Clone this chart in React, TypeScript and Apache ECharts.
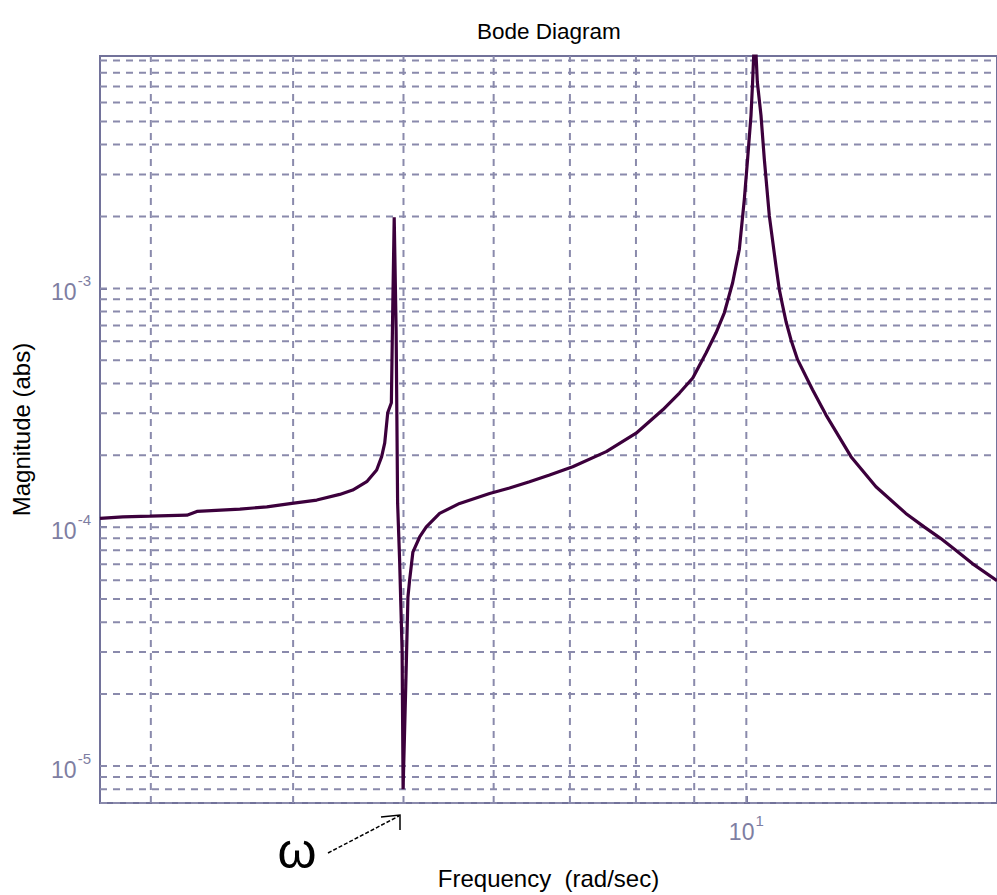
import React, { useEffect, useRef } from "react";
import * as echarts from "echarts";

// Frequency (rad/sec) samples
const frequency = [
  2.707, 2.835, 2.994, 3.227, 3.293, 3.592, 3.793, 3.99, 4.196, 4.395, 4.512, 4.642, 4.736, 4.784,
  4.814, 4.843, 4.879, 4.892, 4.907, 4.926, 4.941, 4.961, 4.986, 4.996, 5.021, 5.045, 5.062, 5.096,
  5.166, 5.236, 5.379, 5.601, 5.951, 6.196, 6.451, 6.718, 7.04, 7.534, 8.003, 8.446, 8.735, 8.974,
  9.218, 9.406, 9.565, 9.727, 9.86, 9.96, 10.026, 10.095, 10.128, 10.173, 10.225, 10.301, 10.37,
  10.476, 10.618, 10.689, 10.761, 10.835, 10.944, 11.092, 11.433, 11.746, 12.357, 12.997, 13.806,
  14.326, 14.818, 15.274, 15.794, 16.6,
];

// Magnitude (abs) samples
const magnitude = [
  1.088e-4, 1.105e-4, 1.112e-4, 1.123e-4, 1.164e-4, 1.19e-4, 1.217e-4, 1.258e-4, 1.299e-4, 1.372e-4,
  1.43e-4, 1.55e-4, 1.736e-4, 1.974e-4, 2.253e-4, 3.013e-4, 3.319e-4, 7.93e-4, 1.987e-3, 6.725e-4,
  1.261e-4, 7.27e-5, 3.04e-5, 8.0e-6, 2.007e-5, 5.08e-5, 5.99e-5, 7.87e-5, 9.1e-5, 1.003e-4,
  1.142e-4, 1.258e-4, 1.385e-4, 1.459e-4, 1.55e-4, 1.653e-4, 1.792e-4, 2.072e-4, 2.475e-4, 3.101e-4,
  3.646e-4, 4.215e-4, 5.367e-4, 6.515e-4, 7.905e-4, 1.056e-3, 1.459e-3, 2.366e-3, 3.483e-3, 5.3e-3,
  7.315e-3, 1.225e-2, 7.315e-3, 5.3e-3, 3.483e-3, 2.012e-3, 1.241e-3, 9.9e-4, 8.48e-4, 7.27e-4,
  6.1e-4, 5.03e-4, 3.764e-4, 2.955e-4, 1.974e-4, 1.477e-4, 1.142e-4, 1.003e-4, 8.96e-5, 8.01e-5,
  7.04e-5, 5.97e-5,
];

// Grid lines (log decades with minor subdivisions)
const freqGridLines = [3, 4, 5, 6, 7, 8, 9, 10];
const magGridLines = [
  7e-6, 8e-6, 9e-6,
  1e-5, 2e-5, 3e-5, 4e-5, 5e-5, 6e-5, 7e-5, 8e-5, 9e-5,
  1e-4, 2e-4, 3e-4, 4e-4, 5e-4, 6e-4, 7e-4, 8e-4, 9e-4,
  1e-3, 2e-3, 3e-3, 4e-3, 5e-3, 6e-3, 7e-3, 8e-3, 9e-3,
];
const freqRange = [2.707, 16.6];
const magRange = [7e-6, 9.4e-3];

const titleText = "Bode Diagram";
const xName = "Frequency  (rad/sec)";
const yName = "Magnitude (abs)";
const annotationText = "ω";

const FONT = "'Liberation Sans', Arial, sans-serif";
const LINE_COLOR = "#3c003c";
const GRID_COLOR = "#8a8aac";
const AXIS_COLOR = "#72729a";
const LABEL_COLOR = "#7e7ea2";

export default function App() {
  const ref = useRef<HTMLDivElement>(null);

  useEffect(() => {
    if (!ref.current) return;
    const chart = echarts.init(ref.current, null, { renderer: "svg" });

    const powerLabel = (v: number) => {
      const e = Math.log10(v);
      const r = Math.round(e);
      if (Math.abs(e - r) > 1e-6) return "";
      return `{b|10}{s|${r}}`;
    };
    const rich = {
      b: { fontSize: 23, color: LABEL_COLOR, fontFamily: FONT, lineHeight: 30, verticalAlign: "bottom" },
      s: { fontSize: 15, color: LABEL_COLOR, fontFamily: FONT, lineHeight: 30, verticalAlign: "top", padding: [0, 0, 0, 1] },
    };

    const gridStyle = { color: GRID_COLOR, type: [7, 6], width: 2 };
    const gridSeries = [
      ...freqGridLines.map((v) => ({
        type: "line",
        silent: true,
        symbol: "none",
        z: 1,
        lineStyle: gridStyle,
        data: [
          [v, magRange[0]],
          [v, magRange[1]],
        ],
      })),
      ...magGridLines.map((v) => ({
        type: "line",
        silent: true,
        symbol: "none",
        z: 1,
        lineStyle: gridStyle,
        data: [
          [freqRange[0], v],
          [freqRange[1], v],
        ],
      })),
    ];

    const data = frequency.map((f, i) => [f, magnitude[i]]);

    chart.setOption({
      animation: false,
      title: {
        text: titleText,
        left: 472,
        top: 15,
        textStyle: { fontSize: 22.5, fontWeight: "normal", color: "#000", fontFamily: FONT },
      },
      grid: {
        left: 100,
        top: 56,
        width: 898,
        height: 749,
        show: true,
        borderColor: AXIS_COLOR,
        borderWidth: 2,
        backgroundColor: "transparent",
      },
      xAxis: {
        type: "log",
        logBase: 10,
        min: freqRange[0],
        max: freqRange[1],
        name: xName,
        nameLocation: "middle",
        nameGap: 63,
        nameTextStyle: { fontSize: 24, color: "#000", fontFamily: FONT },
        axisLine: { show: false },
        axisTick: { show: true, inside: true, length: 7, lineStyle: { color: AXIS_COLOR, width: 2 } },
        splitLine: { show: false },
        axisLabel: { formatter: powerLabel, rich, margin: 10, showMinLabel: false, showMaxLabel: false },
      },
      yAxis: {
        type: "log",
        logBase: 10,
        min: magRange[0],
        max: magRange[1],
        name: yName,
        nameLocation: "middle",
        nameGap: 67,
        nameTextStyle: { fontSize: 24, color: "#000", fontFamily: FONT },
        axisLine: { show: false },
        axisTick: { show: true, inside: true, length: 7, lineStyle: { color: AXIS_COLOR, width: 2 } },
        splitLine: { show: false },
        axisLabel: { formatter: powerLabel, rich, margin: 9, showMinLabel: false, showMaxLabel: false },
      },
      series: [
        ...gridSeries,
        {
          type: "line",
          name: "Magnitude",
          data,
          symbol: "none",
          showSymbol: false,
          z: 3,
          lineStyle: { color: LINE_COLOR, width: 3.2 },
        },
      ],
      graphic: [
        {
          type: "text",
          x: 297,
          y: 851,
          style: {
            text: annotationText,
            fontSize: 50,
            fontFamily: FONT,
            fill: "#000",
            align: "center",
            verticalAlign: "middle",
          },
        },
        {
          type: "line",
          shape: { x1: 328, y1: 853, x2: 399, y2: 816 },
          style: { stroke: "#000", lineWidth: 1.5, lineDash: [4, 2] },
        },
        {
          type: "polyline",
          shape: { points: [[381, 817], [400, 815], [400, 830]] },
          style: { stroke: "#000", lineWidth: 1.5, fill: "none" },
        },
      ],
    });

    return () => chart.dispose();
  }, []);

  return (
    <div
      ref={ref}
      style={{ position: "absolute", left: 0, top: 0, width: 997, height: 895 }}
    />
  );
}
